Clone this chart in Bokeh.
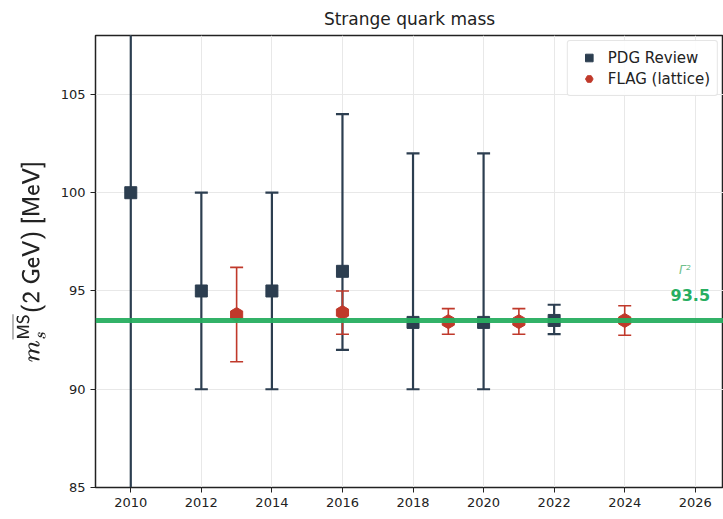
import math
from bokeh.plotting import figure
from bokeh.models import ColumnDataSource, Legend, LegendItem, Label, FixedTicker, Span
from bokeh.embed import file_html
from bokeh.resources import INLINE

# ---- data ----
pdg_year = [2010, 2012, 2014, 2016, 2018, 2020, 2022]
pdg_val = [100.0, 95.0, 95.0, 96.0, 93.4, 93.4, 93.5]
pdg_lo = [80.0, 90.0, 90.0, 92.0, 90.0, 90.0, 92.8]
pdg_hi = [130.0, 100.0, 100.0, 104.0, 102.0, 102.0, 94.3]

flag_year = [2013, 2016, 2019, 2021, 2024]
flag_val = [93.8, 93.9, 93.44, 93.44, 93.5]
flag_lo = [91.4, 92.8, 92.8, 92.8, 92.75]
flag_hi = [96.2, 95.0, 94.1, 94.1, 94.25]

avg_value = 93.5
x_ticks = [2010, 2012, 2014, 2016, 2018, 2020, 2022, 2024, 2026]
y_ticks = [85, 90, 95, 100, 105]

NAVY = "#2c3e50"
RED = "#c0392b"
GREEN = "#27ae60"

p = figure(width=723, height=519, x_range=(2009.0, 2026.8), y_range=(85, 108),
           output_backend="svg", toolbar_location=None,
           min_border_left=95, min_border_right=0, min_border_top=35, min_border_bottom=32,
           title="Strange quark mass")
p.title.align = "center"
p.title.text_font = "DejaVu Sans"
p.title.text_font_size = "17px"
p.title.text_font_style = "normal"
p.title.text_color = "#222222"
p.title.standoff = 13

p.outline_line_color = "#222222"
p.outline_line_width = 1.5
p.background_fill_color = "white"
p.border_fill_color = "white"

p.xaxis.ticker = FixedTicker(ticks=x_ticks)
p.yaxis.ticker = FixedTicker(ticks=y_ticks)
for ax in (p.xaxis[0], p.yaxis[0]):
    ax.major_label_text_font = "DejaVu Sans"
    ax.major_label_text_font_size = "13px"
    ax.major_label_text_color = "#222222"
    ax.axis_line_color = "#222222"
    ax.major_tick_line_color = "#222222"
    ax.major_tick_out = 5
    ax.major_tick_in = 0
    ax.minor_tick_line_color = None
p.yaxis.axis_label = r"$$m_s^{\overline{\mathsf{MS}}}\mathsf{(2\ GeV)\ [MeV]}$$"
p.yaxis.axis_label_text_font_size = "20px"
p.yaxis.axis_label_text_font_style = "normal"
p.yaxis.axis_label_text_color = "#222222"
p.yaxis.axis_label_standoff = 12

p.xgrid.grid_line_color = "#e8e8e8"
p.ygrid.grid_line_color = "#e8e8e8"
p.xgrid.grid_line_width = 1
p.ygrid.grid_line_width = 1

# reference line
p.add_layout(Span(location=avg_value, dimension="width", line_color=GREEN, line_width=5, line_alpha=0.95))

pdg = ColumnDataSource(dict(x=pdg_year, y=pdg_val, lo=pdg_lo, hi=pdg_hi))
flag = ColumnDataSource(dict(x=flag_year, y=flag_val, lo=flag_lo, hi=flag_hi))

p.segment(x0="x", y0="lo", x1="x", y1="hi", source=pdg, line_color=NAVY, line_width=2.2)
p.scatter(x="x", y="lo", source=pdg, marker="dash", size=13, line_color=NAVY, line_width=2.2)
p.scatter(x="x", y="hi", source=pdg, marker="dash", size=13, line_color=NAVY, line_width=2.2)
pdg_pts = p.scatter(x="x", y="y", source=pdg, marker="square", size=12, fill_color=NAVY, line_color=NAVY)

p.segment(x0="x", y0="lo", x1="x", y1="hi", source=flag, line_color=RED, line_width=1.6)
p.scatter(x="x", y="lo", source=flag, marker="dash", size=13, line_color=RED, line_width=1.6)
p.scatter(x="x", y="hi", source=flag, marker="dash", size=13, line_color=RED, line_width=1.6)
flag_pts = p.scatter(x="x", y="y", source=flag, marker="hex", size=14, angle=math.pi / 2,
                     fill_color=RED, line_color=RED)

p.add_layout(Label(x=2025.7, y=96.05, text="Γ²", text_color="#6fbf8a", text_font_size="12px",
                   text_font_style="italic", text_align="center", text_baseline="middle",
                   text_font="DejaVu Sans"))
p.add_layout(Label(x=2025.86, y=94.8, text="93.5", text_color=GREEN, text_font_size="16px",
                   text_font_style="bold", text_align="center", text_baseline="middle",
                   text_font="DejaVu Sans"))

legend = Legend(items=[LegendItem(label="PDG Review", renderers=[pdg_pts]),
                       LegendItem(label="FLAG (lattice)", renderers=[flag_pts])],
                location="top_right")
legend.label_text_font = "DejaVu Sans"
legend.label_text_font_size = "15px"
legend.label_text_color = "#222222"
legend.border_line_color = "#cccccc"
legend.border_line_width = 1
legend.border_radius = 3
legend.margin = 5
legend.padding = 7
legend.spacing = 2
legend.glyph_height = 19
legend.glyph_width = 28
legend.label_height = 19
legend.background_fill_alpha = 0.9
p.add_layout(legend)

open("out.html", "w").write(file_html(p, INLINE))
